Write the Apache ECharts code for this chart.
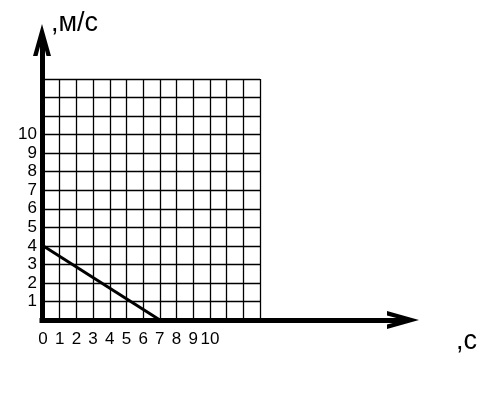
<!DOCTYPE html>
<html>
<head>
<meta charset="utf-8">
<script src="https://cdn.jsdelivr.net/npm/echarts@6/dist/echarts.min.js"></script>
<style>html,body{margin:0;padding:0;background:#fff}#c{width:503px;height:404px}</style>
</head>
<body>
<div id="c"></div>
<script>
// Data
const xCellMax = 13;          // grid cells along time axis
const yCellMax = 13;          // grid cells along speed axis
const xTickLabels = [0, 1, 2, 3, 4, 5, 6, 7, 8, 9, 10];
const yTickLabels = [1, 2, 3, 4, 5, 6, 7, 8, 9, 10];
const lineT = [0, 7];
const lineV = [4, 0];
const yName = ',м/с';
const xName = ',с';

const chevron = 'path://M0,32 L9,0 L18,32 L13.5,32 L9,15 L4.5,32 Z';
const font = 'Liberation Sans, Arial, sans-serif';

const chart = echarts.init(document.getElementById('c'), null, {renderer: 'canvas'});
chart.setOption({
  animation: false,
  backgroundColor: '#fff',
  grid: [
    {left: 43, right: 243, top: 79, bottom: 84},
    {left: 42, right: 100, top: 40, bottom: 84}
  ],
  title: [
    {text: yName, left: 46, top: 5, textStyle: {fontFamily: font, fontSize: 27, fontWeight: 'normal', color: '#000'}},
    {text: xName, left: 451, top: 323, textStyle: {fontFamily: font, fontSize: 27, fontWeight: 'normal', color: '#000'}}
  ],
  xAxis: [
    {
      gridIndex: 0, type: 'value', min: 0, max: xCellMax, interval: 1,
      axisLine: {show: false}, axisTick: {show: false},
      splitLine: {show: true, lineStyle: {color: '#000', width: 1.3}},
      axisLabel: {
        margin: 11, color: '#000', fontFamily: font, fontSize: 17,
        formatter: v => xTickLabels.indexOf(v) >= 0 ? String(v) : ''
      }
    },
    {
      gridIndex: 1, type: 'value', min: 0, max: 1,
      axisLabel: {show: false}, axisTick: {show: false}, splitLine: {show: false},
      axisLine: {show: true, lineStyle: {color: '#000', width: 5, cap: 'square'},
        symbol: ['none', chevron], symbolSize: [18, 32], symbolOffset: [0, 0]}
    }
  ],
  yAxis: [
    {
      gridIndex: 0, type: 'value', min: 0, max: yCellMax, interval: 1,
      axisLine: {show: false}, axisTick: {show: false},
      splitLine: {show: true, lineStyle: {color: '#000', width: 1.3}},
      axisLabel: {
        margin: 6, color: '#000', fontFamily: font, fontSize: 17,
        formatter: v => yTickLabels.indexOf(v) >= 0 ? String(v) : ''
      }
    },
    {
      gridIndex: 1, type: 'value', min: 0, max: 1,
      axisLabel: {show: false}, axisTick: {show: false}, splitLine: {show: false},
      axisLine: {show: true, lineStyle: {color: '#000', width: 5, cap: 'square'},
        symbol: ['none', chevron], symbolSize: [18, 32], symbolOffset: [0, 0]}
    }
  ],
  series: [
    {
      type: 'line', xAxisIndex: 0, yAxisIndex: 0,
      data: lineT.map((t, i) => [t, lineV[i]]),
      symbol: 'none', lineStyle: {color: '#000', width: 3}, z: 5
    }
  ]
});
</script>
</body>
</html>
